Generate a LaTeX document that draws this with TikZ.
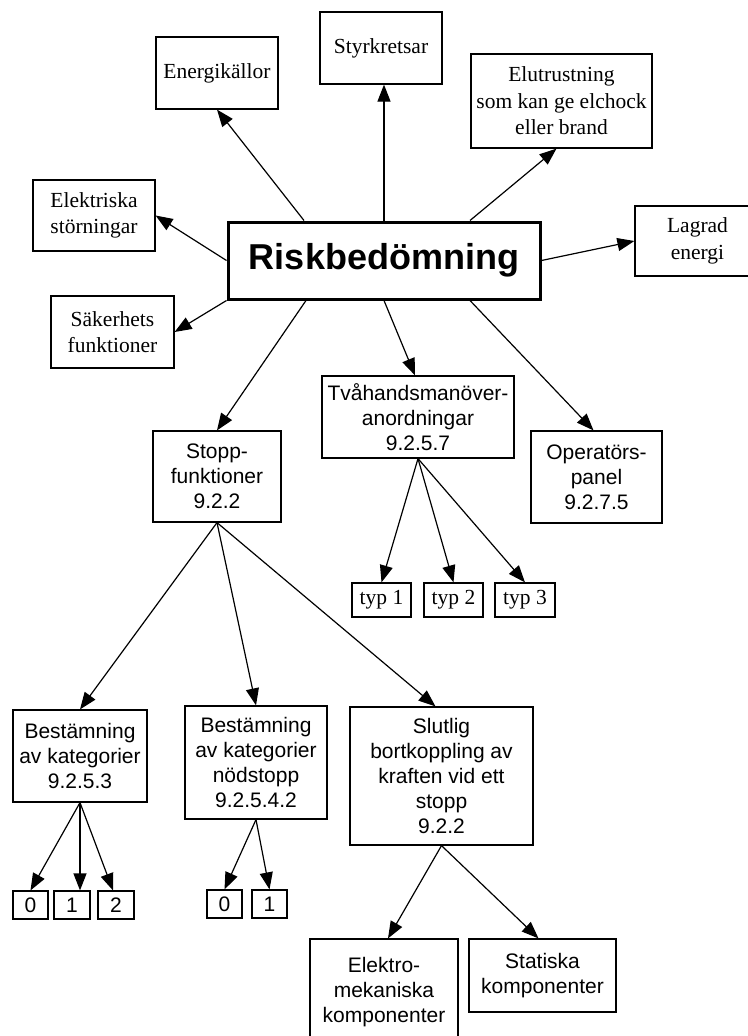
\documentclass[tikz,border=0pt]{standalone}
\usepackage{fontspec}
\setmainfont{Liberation Serif}
\setsansfont{Liberation Sans}
\usetikzlibrary{arrows.meta}

\begin{document}
\begin{tikzpicture}[x=1pt,y=-1pt,>={Triangle[length=17pt,width=13pt]},
 tbox/.style={draw,line width=1.2pt,align=center,inner sep=0pt,font=\fontsize{21.5}{26.5}\selectfont},
 sbox/.style={draw,line width=1.2pt,align=center,inner sep=0pt,font=\sffamily\fontsize{21}{25}\selectfont},
 sz/.style 2 args={minimum width=#1pt,minimum height=#2pt},
 pil/.style={line width=1.2pt,->}]
\useasboundingbox (0,0) rectangle (747,1036);
% top level
\node[draw,line width=3pt,sz={312}{77},font=\sffamily\bfseries\fontsize{36}{40}\selectfont] (risk) at (384,260.5) {Riskbedömning};
\node[tbox,sz={122}{72}] (ener) at (217,73) {Energikällor};
\node[tbox,sz={122}{72}] (styr) at (381,48) {Styrkretsar};
\node[tbox,sz={181}{94}] (elut) at (561.5,101) {Elutrustning\\som kan ge elchock\\eller brand};
\node[tbox,sz={122}{71}] (elst) at (94,215.5) {Elektriska\\störningar};
\node[tbox,sz={125}{70}] (lagr) at (697.5,241) {Lagrad\\energi};
\node[tbox,sz={123}{72}] (saek) at (112.5,332) {Säkerhets\\funktioner};
% second level
\node[sbox,sz={128}{91}] (stopp) at (217,476.5) {Stopp-\\funktioner\\9.2.2};
\node[sbox,sz={192}{82}] (tvah) at (418,417) {Tvåhandsmanöver-\\anordningar\\9.2.5.7};
\node[sbox,sz={131}{92}] (oper) at (596.5,477) {Operatörs-\\panel\\9.2.7.5};
\node[tbox,sz={59}{34}] (typa) at (381.5,600) {typ 1};
\node[tbox,sz={59}{34}] (typb) at (453.5,600) {typ 2};
\node[tbox,sz={60}{34}] (typc) at (525,600) {typ 3};
% third level
\node[sbox,sz={134}{92}] (besta) at (80,756) {Bestämning\\av kategorier\\9.2.5.3};
\node[sbox,sz={142}{113}] (bestb) at (256,762.5) {Bestämning\\av kategorier\\nödstopp\\9.2.5.4.2};
\node[sbox,sz={183}{138}] (slut) at (441.5,776) {Slutlig\\bortkoppling av\\kraften vid ett\\stopp\\9.2.2};
\node[sbox,sz={35}{28}] (kat0) at (30.5,905) {0};
\node[sbox,sz={36}{28}] (kat1) at (72,905) {1};
\node[sbox,sz={36}{28}] (kat2) at (116,905) {2};
\node[sbox,sz={35}{28}] (nod0) at (224.5,904) {0};
\node[sbox,sz={35}{28}] (nod1) at (269.5,904) {1};
\node[sbox,sz={148}{106}] (elme) at (384,992) {Elektro-\\mekaniska\\komponenter};
\node[sbox,sz={147}{73}] (stat) at (542.5,975.5) {Statiska\\komponenter};
% arrows
\draw[pil] ([xshift=-80pt]risk.north) -- (ener.south);
\draw[pil] (risk.north) -- (risk.north |- styr.south);
\draw[pil] ([xshift=86pt]risk.north) -- ([xshift=-5pt]elut.south);
\draw[pil] (risk.west) -- (elst.east);
\draw[pil] (risk.east) -- (lagr.west);
\draw[pil] (risk.south west) -- (saek.east);
\draw[pil] ([xshift=-78pt]risk.south) -- (stopp.north);
\draw[pil] (risk.south) -- ([xshift=-3pt]tvah.north);
\draw[pil] ([xshift=86pt]risk.south) -- ([xshift=-3pt]oper.north);
\foreach \t in {typa,typb,typc}
  \draw[pil] (tvah.south) -- (\t.north);
\draw[pil] (stopp.south) -- (besta.north);
\draw[pil] (stopp.south) -- (bestb.north);
\draw[pil] (stopp.south) -- ([xshift=-6pt]slut.north);
\draw[pil] (besta.south) -- (kat0.north);
\draw[pil] (besta.south) -- (besta.south |- kat1.north);
\draw[pil] (besta.south) -- ([xshift=-3pt]kat2.north);
\draw[pil] (bestb.south) -- (nod0.north);
\draw[pil] (bestb.south) -- (nod1.north);
\draw[pil] (slut.south) -- ([xshift=4pt]elme.north);
\draw[pil] (slut.south) -- ([xshift=-4pt]stat.north);
\end{tikzpicture}
\end{document}
